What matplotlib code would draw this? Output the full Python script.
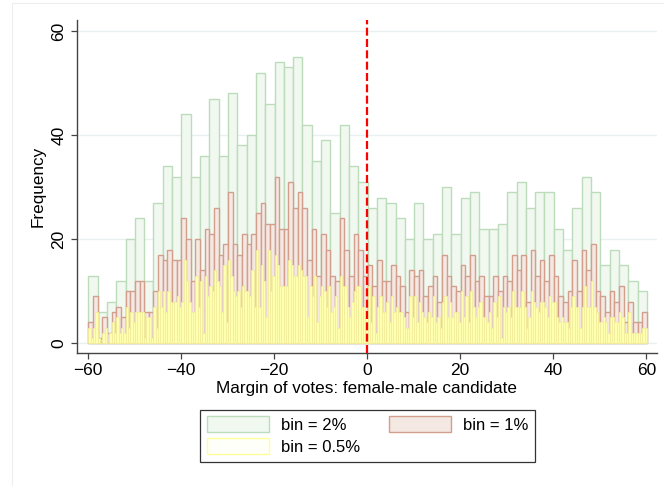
import matplotlib
matplotlib.use("Agg")
import matplotlib.pyplot as plt
from matplotlib.patches import Patch
from matplotlib.lines import Line2D
import numpy as np

plt.rcParams['font.family'] = ['Liberation Sans', 'DejaVu Sans']

# ---- data (counts) ----
bin_start = -59.87
counts_2 = [13, 6, 8, 12, 20, 24, 12, 27, 34, 32, 44, 32, 36, 47, 36, 48, 38, 40, 52, 46,
            54, 53, 55, 42, 35, 39, 25, 42, 34, 31, 26, 28, 27, 24, 20, 27, 20, 21, 30, 21,
            28, 29, 22, 22, 23, 29, 31, 26, 29, 29, 22, 18, 26, 32, 29, 15, 18, 15, 12, 10]
counts_1 = [4, 9, 1, 5, 2, 6, 7, 5, 10, 10, 12, 12, 6, 6, 10, 17, 16, 18, 16, 16,
            24, 20, 12, 20, 14, 22, 21, 26, 17, 19, 29, 19, 17, 21, 19, 21, 25, 27, 23, 23,
            32, 22, 22, 31, 26, 29, 26, 16, 22, 13, 21, 18, 13, 12, 24, 18, 13, 21, 18, 13,
            15, 11, 16, 12, 12, 15, 13, 11, 6, 14, 13, 14, 9, 11, 13, 8, 17, 13, 11, 10,
            15, 13, 17, 12, 13, 9, 9, 13, 10, 13, 12, 17, 14, 17, 8, 18, 13, 16, 12, 17,
            13, 9, 8, 10, 16, 10, 18, 14, 19, 10, 9, 6, 10, 8, 11, 4, 8, 4, 4, 6]
counts_05 = [3, 1, 3, 6, 1, 0, 2, 3, 0, 2, 4, 2, 5, 2, 3, 2, 7, 3, 6, 4,
             6, 6, 6, 6, 1, 5, 5, 1, 7, 3, 10, 7, 10, 6, 10, 8, 8, 8, 9, 7,
             8, 16, 12, 8, 6, 6, 13, 7, 12, 2, 13, 9, 11, 10, 14, 12, 11, 6, 15, 4,
             16, 13, 10, 9, 10, 7, 11, 10, 10, 9, 14, 7, 18, 7, 15, 12, 5, 18, 10, 13,
             17, 15, 11, 11, 11, 11, 16, 15, 13, 13, 15, 14, 13, 13, 5, 11, 9, 13, 4, 9,
             11, 10, 7, 11, 6, 7, 9, 3, 13, 11, 11, 7, 5, 8, 10, 11, 11, 7, 7, 6,
             11, 4, 9, 2, 7, 9, 6, 6, 8, 4, 9, 6, 7, 6, 6, 5, 3, 3, 9, 5,
             9, 4, 8, 6, 5, 4, 6, 5, 9, 4, 5, 3, 8, 9, 5, 8, 5, 6, 6, 4,
             10, 5, 9, 4, 10, 7, 5, 7, 8, 5, 5, 4, 6, 3, 8, 5, 9, 1, 7, 6,
             7, 5, 10, 7, 7, 7, 10, 7, 3, 5, 10, 8, 7, 6, 8, 8, 7, 5, 9, 8,
             8, 5, 4, 5, 4, 4, 3, 7, 9, 7, 7, 3, 7, 11, 7, 7, 12, 7, 6, 4,
             4, 5, 4, 2, 5, 5, 4, 4, 6, 5, 2, 2, 6, 2, 2, 2, 2, 2, 3, 3]
widths = [2.0, 1.0, 0.5]
labels = ["bin = 2%", "bin = 1%", "bin = 0.5%"]
x_ticks = [-60, -40, -20, 0, 20, 40, 60]
y_ticks = [0, 20, 40, 60]
cutoff = 0

# ---- styles ----
green_fc, green_ec = '#f0f8f0', '#bcdcbc'
red_fc, red_ec = '#f4e8e3', '#d39f8d'
yel_fc, yel_ec = '#ffffb0', '#f3ee9c'

W, H = 664, 486
fig = plt.figure(figsize=(W / 100, H / 100), dpi=100)
ax = fig.add_axes([77 / W, 1 - 353 / H, (657 - 77) / W, (353 - 20) / H])

for counts, w, fc, ec, lw in [(counts_2, widths[0], green_fc, green_ec, 1.0),
                              (counts_1, widths[1], red_fc, red_ec, 1.0),
                              (counts_05, widths[2], yel_fc, yel_ec, 0.6)]:
    lefts = bin_start + w * np.arange(len(counts))
    ax.bar(lefts, counts, width=w, align='edge', color=fc, edgecolor=ec,
           linewidth=lw, zorder=2)

ax.axvline(cutoff, color='#ff0000', linestyle=(0, (3.6, 1.5)), linewidth=1.6, zorder=5)

ax.set_xlim(-62.3, 62.3)
ax.set_ylim(-1.86, 62.1)
ax.set_xticks(x_ticks)
ax.set_yticks(y_ticks)
ax.set_yticklabels([str(v) for v in y_ticks], rotation=90, va='center')
ax.grid(axis='y', color='#e8f0f2', linewidth=1.0, zorder=0)
ax.set_axisbelow(True)
for s in ['top', 'right']:
    ax.spines[s].set_visible(False)
for s in ['left', 'bottom']:
    ax.spines[s].set_color('#444444')
    ax.spines[s].set_linewidth(1.0)
ax.tick_params(axis='both', direction='out', length=4.5, width=0.9, color='#444444',
               labelsize=12.5, labelcolor='black', pad=3)
ax.set_xlabel("Margin of votes: female-male candidate", fontsize=12.3, labelpad=2)
ax.set_ylabel("Frequency", fontsize=12.3, labelpad=4)

handles = [Patch(facecolor=green_fc, edgecolor=green_ec, linewidth=1.0),
           Patch(facecolor=red_fc, edgecolor=red_ec, linewidth=1.0),
           Patch(facecolor='#fffffa', edgecolor='#ffff99', linewidth=1.0)]
leg = fig.legend([handles[0], handles[2], handles[1]],
                 [labels[0], labels[2], labels[1]],
                 ncol=2, loc='center', bbox_to_anchor=(367.5 / W, 1 - 435.5 / H),
                 fontsize=12, frameon=True, fancybox=False, edgecolor='black',
                 handlelength=3.75, handleheight=1.05, handletextpad=0.7,
                 columnspacing=1.7, labelspacing=0.35, borderpad=0.4)
leg.get_frame().set_linewidth(0.9)

# faint outer region border (left and top)
fig.add_artist(Line2D([12 / W, 12 / W], [0, 1 - 3 / H], color='#eeeeee', linewidth=0.8,
                      transform=fig.transFigure))
fig.add_artist(Line2D([12 / W, 1], [1 - 3 / H, 1 - 3 / H], color='#eeeeee', linewidth=0.8,
                      transform=fig.transFigure))

fig.savefig("out.png", dpi=100)
